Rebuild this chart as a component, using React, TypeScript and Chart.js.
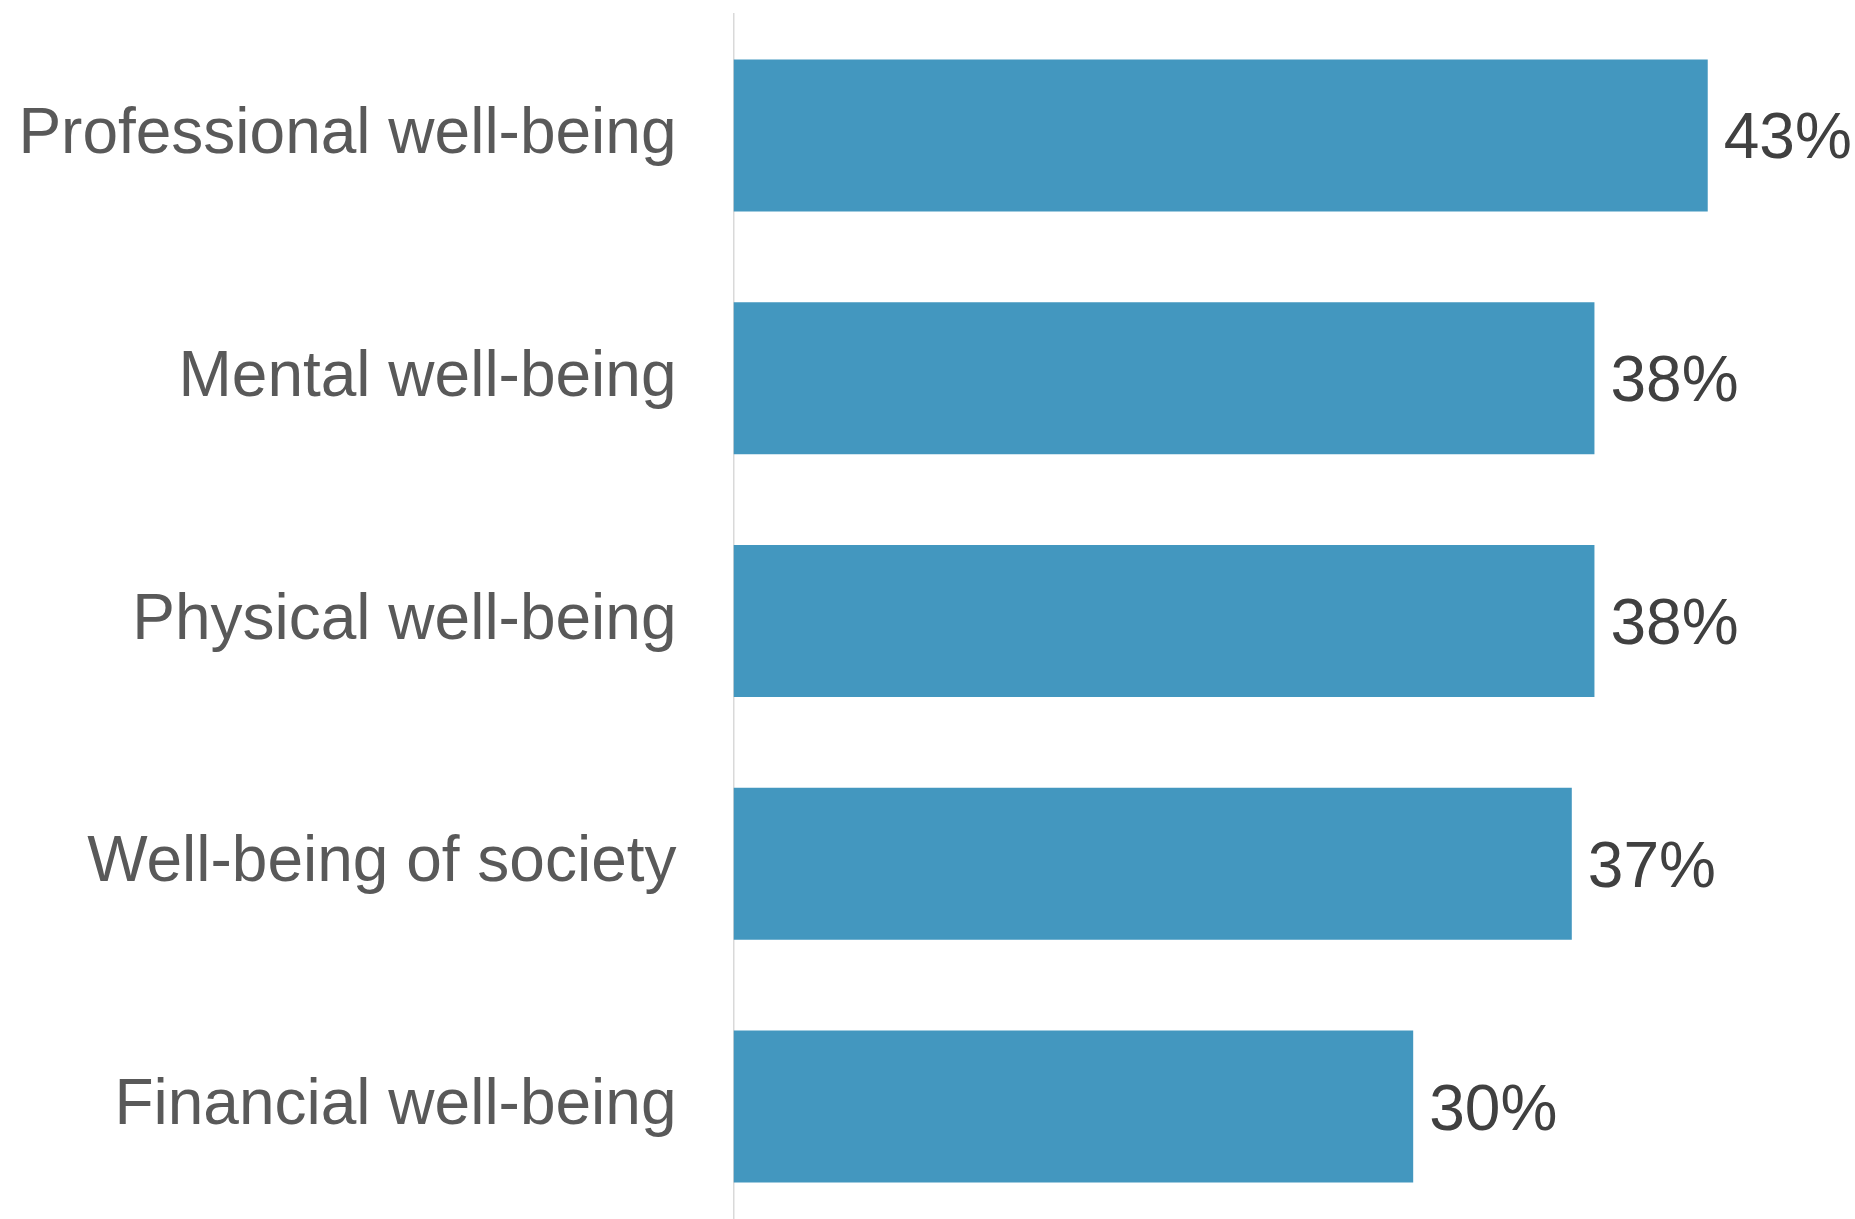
import React, { useEffect, useRef } from "react";
import { Chart, registerables } from "chart.js";

Chart.register(...registerables);

const categories = [
  "Professional well-being",
  "Mental well-being",
  "Physical well-being",
  "Well-being of society",
  "Financial well-being",
];
const values = [43, 38, 38, 37, 30];
const X_MIN = 0;
const X_MAX = 49.5;

const FONT = '"Liberation Sans", Arial, sans-serif';
const BAR_COLOR = "#4397bf";
const LABEL_COLOR = "#595959";
const VALUE_COLOR = "#404040";
const FONT_SIZE = 64;

const valueLabels = {
  id: "valueLabels",
  afterDatasetsDraw(chart: any) {
    const ctx = chart.ctx;
    const meta = chart.getDatasetMeta(0);
    ctx.save();
    ctx.font = `${FONT_SIZE}px ${FONT}`;
    ctx.fillStyle = VALUE_COLOR;
    ctx.textAlign = "left";
    ctx.textBaseline = "alphabetic";
    meta.data.forEach((bar: any, i: number) => {
      const v = chart.data.datasets[0].data[i];
      ctx.fillText(`${v}%`, bar.x + 16, bar.y + FONT_SIZE * 0.36);
    });
    ctx.restore();
  },
};

export default function App() {
  const ref = useRef<HTMLCanvasElement | null>(null);
  useEffect(() => {
    if (!ref.current) return;
    const chart = new Chart(ref.current, {
      type: "bar",
      data: {
        labels: categories,
        datasets: [
          {
            data: values,
            backgroundColor: BAR_COLOR,
            borderWidth: 0,
            barPercentage: 0.626,
            categoryPercentage: 1,
          },
        ],
      },
      options: {
        indexAxis: "y",
        responsive: false,
        animation: false,
        devicePixelRatio: 1,
        layout: { padding: { top: 14, bottom: 0, left: 0, right: 0 } },
        plugins: {
          legend: { display: false },
          tooltip: { enabled: false },
        },
        scales: {
          x: {
            display: false,
            min: X_MIN,
            max: X_MAX,
          },
          y: {
            grid: { display: false, drawTicks: false },
            border: { display: true, color: "#d9d9d9", width: 1.5 },
            ticks: {
              color: LABEL_COLOR,
              font: { family: FONT, size: FONT_SIZE },
              padding: 57,
            },
            afterFit(scale: any) {
              scale.width = 733.5;
              scale.paddingTop = 0;
              scale.paddingBottom = 0;
            },
          },
        },
      },
      plugins: [valueLabels],
    });
    return () => chart.destroy();
  }, []);
  return (
    <div
      style={{
        position: "fixed",
        left: 0,
        top: 0,
        width: 1855,
        height: 1219,
        overflow: "hidden",
        background: "#ffffff",
      }}
    >
      <canvas ref={ref} width={1855} height={1228} style={{ display: "block" }} />
    </div>
  );
}
